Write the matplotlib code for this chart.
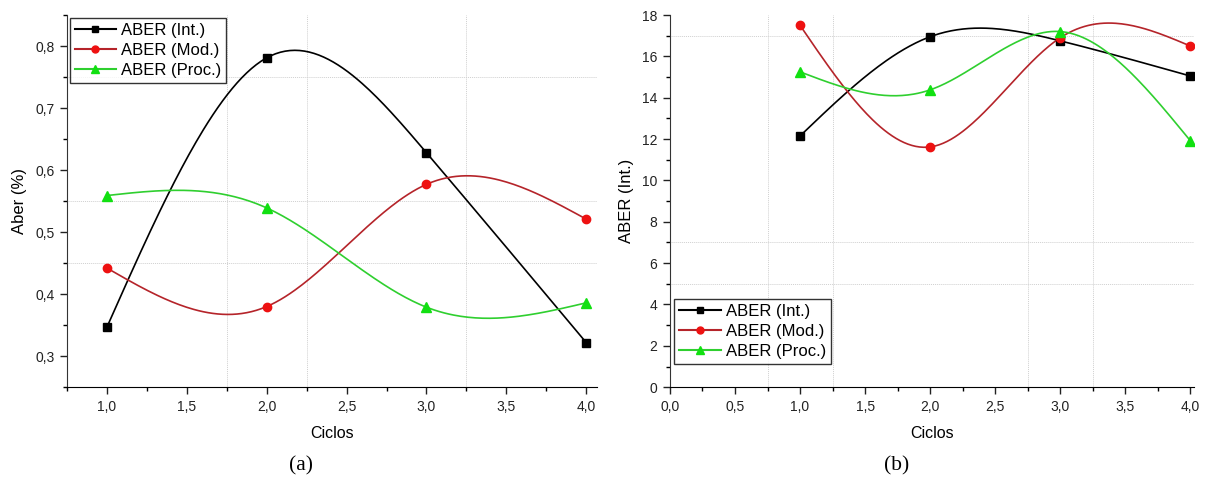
import numpy as np
import matplotlib
matplotlib.use("Agg")
import matplotlib.pyplot as plt
from matplotlib.ticker import MultipleLocator, FuncFormatter

plt.rcParams["font.family"] = ["Liberation Sans", "DejaVu Sans"]

# ---- data ----
ciclos = [1.0, 2.0, 3.0, 4.0]

# (a) Aber (%)
aber_int_a = [0.347, 0.781, 0.628, 0.322]
aber_mod_a = [0.442, 0.380, 0.577, 0.521]
aber_proc_a = [0.559, 0.539, 0.379, 0.386]

# (b) ABER (Int.)
aber_int_b = [12.15, 16.95, 16.75, 15.05]
aber_mod_b = [17.5, 11.62, 16.9, 16.5]
aber_proc_b = [15.25, 14.38, 17.2, 11.92]

SERIES = [
    ("ABER (Int.)", "black", "black", "s", 5.5),
    ("ABER (Mod.)", "#b5242a", "#ee1111", "o", 6),
    ("ABER (Proc.)", "#2fcf2f", "#11e011", "^", 6.5),
]


def natural_spline(x, y, n=200):
    """Natural cubic spline through the points (like Origin's spline connect)."""
    x = np.asarray(x, float)
    y = np.asarray(y, float)
    k = len(x)
    h = np.diff(x)
    A = np.zeros((k, k))
    b = np.zeros(k)
    A[0, 0] = A[-1, -1] = 1.0
    for i in range(1, k - 1):
        A[i, i - 1] = h[i - 1]
        A[i, i] = 2 * (h[i - 1] + h[i])
        A[i, i + 1] = h[i]
        b[i] = 6 * ((y[i + 1] - y[i]) / h[i] - (y[i] - y[i - 1]) / h[i - 1])
    M = np.linalg.solve(A, b)
    xs = np.linspace(x[0], x[-1], n)
    idx = np.clip(np.searchsorted(x, xs) - 1, 0, k - 2)
    x0, x1 = x[idx], x[idx + 1]
    hh = x1 - x0
    t0, t1 = x1 - xs, xs - x0
    ys = (M[idx] * t0 ** 3 / (6 * hh) + M[idx + 1] * t1 ** 3 / (6 * hh)
          + (y[idx] / hh - M[idx] * hh / 6) * t0
          + (y[idx + 1] / hh - M[idx + 1] * hh / 6) * t1)
    return xs, ys


def comma(fmt):
    return FuncFormatter(lambda v, p: fmt.format(v).replace(".", ","))


def draw(ax, ys_list):
    for (label, lc, mc, mk, ms), ys in zip(SERIES, ys_list):
        sx, sy = natural_spline(ciclos, ys)
        ax.plot(sx, sy, color=lc, lw=1.2, zorder=3)
        ax.plot(ciclos, ys, ls="none", marker=mk, ms=ms, color=mc,
                mec=mc, zorder=4)
        # legend proxy: line + marker
        ax.plot([], [], color=lc, lw=1.5, marker=mk, ms=ms - 1,
                mfc=mc, mec=mc, label=label)
    for s in ("top", "right"):
        ax.spines[s].set_visible(False)
    ax.spines["left"].set_color("#333333")
    ax.tick_params(which="major", direction="out", length=5, width=1,
                   labelsize=10, colors="#222222", pad=4)
    ax.tick_params(which="minor", direction="out", length=3, width=1)
    ax.set_xlabel("Ciclos", fontsize=11.5, labelpad=9)


def style_legend(leg):
    leg.get_frame().set_edgecolor("black")
    leg.get_frame().set_linewidth(1.0)


fig = plt.figure(figsize=(12.08, 4.84), dpi=100)
grid_kw = dict(color="#d0d0d0", lw=0.7, ls=(0, (1, 1)), zorder=1)
leg_kw = dict(fontsize=12, frameon=True, fancybox=False, handlelength=2.5,
              handletextpad=0.3, borderpad=0.3, labelspacing=0.3)

# ---- panel (a) ----
ax1 = fig.add_axes([0.0555, 0.200, 0.439, 0.769])
draw(ax1, [aber_int_a, aber_mod_a, aber_proc_a])
ax1.set_xlim(0.75, 4.07)
ax1.set_ylim(0.25, 0.85)
ax1.xaxis.set_major_locator(MultipleLocator(0.5))
ax1.xaxis.set_minor_locator(MultipleLocator(0.25))
ax1.yaxis.set_major_locator(MultipleLocator(0.1))
ax1.yaxis.set_minor_locator(MultipleLocator(0.05))
ax1.set_xticks([1.0, 1.5, 2.0, 2.5, 3.0, 3.5, 4.0])
ax1.xaxis.set_major_formatter(comma("{:.1f}"))
ax1.yaxis.set_major_formatter(comma("{:.1f}"))
ax1.set_ylabel("Aber (%)", fontsize=12, labelpad=6)
for gx in (1.75, 2.25, 3.25):
    ax1.axvline(gx, **grid_kw)
for gy in (0.45, 0.55, 0.75):
    ax1.axhline(gy, **grid_kw)
style_legend(ax1.legend(loc="upper left", borderaxespad=0.15, **leg_kw))

# ---- panel (b) ----
ax2 = fig.add_axes([0.5546, 0.200, 0.434, 0.769])
draw(ax2, [aber_int_b, aber_mod_b, aber_proc_b])
ax2.set_xlim(0.0, 4.03)
ax2.set_ylim(0, 18)
ax2.xaxis.set_major_locator(MultipleLocator(0.5))
ax2.xaxis.set_minor_locator(MultipleLocator(0.25))
ax2.yaxis.set_major_locator(MultipleLocator(2))
ax2.yaxis.set_minor_locator(MultipleLocator(1))
ax2.xaxis.set_major_formatter(comma("{:.1f}"))
ax2.yaxis.set_major_formatter(comma("{:.0f}"))
ax2.set_ylabel("ABER (Int.)", fontsize=12, labelpad=6)
for gx in (0.75, 1.25, 2.75, 3.25):
    ax2.axvline(gx, **grid_kw)
for gy in (5, 7, 17):
    ax2.axhline(gy, **grid_kw)
style_legend(ax2.legend(loc="lower left", bbox_to_anchor=(0.008, 0.063),
                        borderaxespad=0, **leg_kw))

# captions
fig.text(0.249, 0.038, "(a)", ha="center", va="center", fontsize=15.5,
         family=["Liberation Serif", "DejaVu Serif"])
fig.text(0.742, 0.038, "(b)", ha="center", va="center", fontsize=15.5,
         family=["Liberation Serif", "DejaVu Serif"])

fig.savefig("out.png", dpi=100)
